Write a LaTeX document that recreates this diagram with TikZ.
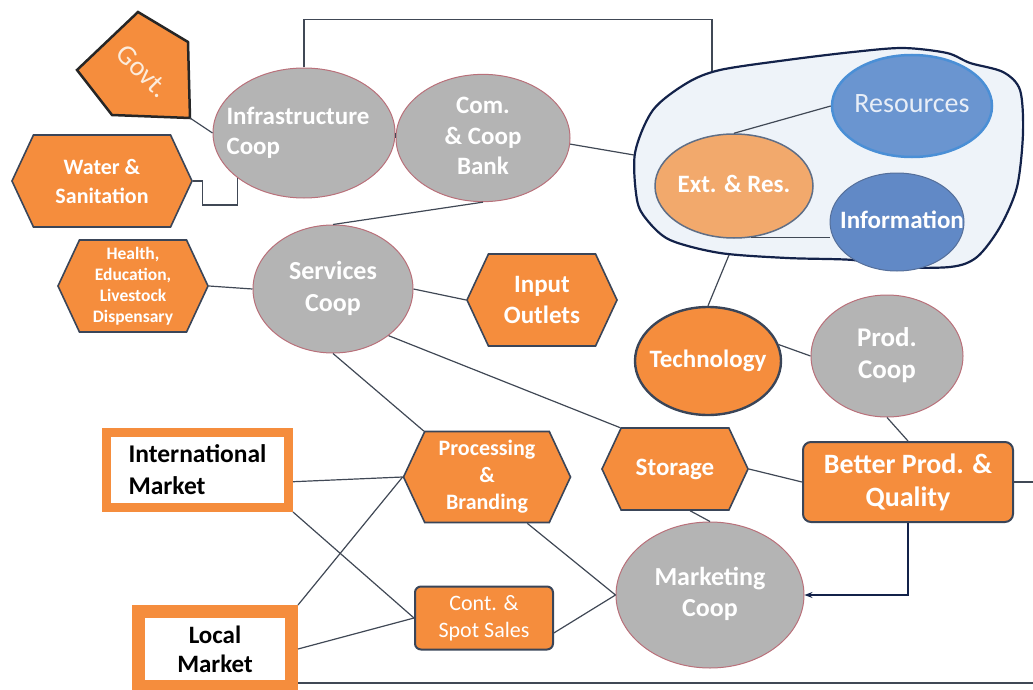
\documentclass[tikz,border=0pt]{standalone}
\usepackage{fontspec}
\setmainfont{Carlito}
\usetikzlibrary{shapes.geometric,shapes.symbols,arrows.meta}
\definecolor{org}{HTML}{F58D3D}
\definecolor{edgec}{HTML}{3A4558}
\definecolor{gfill}{HTML}{B4B4B4}
\definecolor{gline}{HTML}{B9707A}
\definecolor{linec}{HTML}{404855}
\definecolor{blobfill}{HTML}{EEF3F9}
\definecolor{navy}{HTML}{13224A}
\definecolor{resfill}{HTML}{6A95D0}
\definecolor{resline}{HTML}{4A8FD6}
\definecolor{infofill}{HTML}{6189C6}
\definecolor{extfill}{HTML}{F2A96C}
\newcommand{\fs}[2]{\fontsize{#1}{#2}\selectfont}
\newcommand{\zt}[2]{\makebox[0pt]{\begin{tabular}{@{}#1@{}}#2\end{tabular}}}
\tikzset{
  grayell/.style={ellipse, fill=gfill, draw=gline, line width=1pt, text=white, font=\bfseries, align=center, inner sep=0pt},
  hexa/.style={signal, signal to=west and east, signal pointer angle=130, fill=org, draw=edgec, line width=1.6pt, text=white, font=\bfseries, align=center, inner sep=0pt},
  rbox/.style={rectangle, rounded corners=8pt, fill=org, draw=edgec, line width=2pt, text=white, font=\bfseries, align=center, inner sep=0pt},
  mbox/.style={rectangle, fill=white, draw=org, line width=9pt, text=black, font=\bfseries, align=left, inner sep=0pt},
  conn/.style={draw=linec, line width=1.2pt},
}
\begin{document}
\begin{tikzpicture}[x=1pt,y=-1pt]
\useasboundingbox (0,0) rectangle (1033,690);
% blob
\draw[navy, line width=2.2pt, fill=blobfill] plot[smooth cycle, tension=0.5] coordinates {
 (635,153) (653,110) (687,83) (720,70) (787,60) (853,52) (903,48) (947,53) (970,63) (1003,72) (1020,90) (1023,133) (1017,187) (1000,227) (977,257) (950,267) (887,267) (853,260) (787,258) (720,253) (670,240) (647,220) (637,200)};
\coordinate (blobtop) at (712,71);
\coordinate (blobleft) at (634,155);
\coordinate (blobbot) at (729,255);
\node[ellipse, fill=resfill, draw=resline, line width=2.5pt, minimum width=160pt, minimum height=102pt, inner sep=0pt, text={rgb,255:red,232;green,238;blue,247}, font=\fs{28}{32}] (res) at (912,106) {\zt{c}{Resources}};
\node[ellipse, fill=extfill, draw={rgb,255:red,95;green,110;blue,134}, line width=1.5pt, minimum width=158pt, minimum height=104pt, inner sep=0pt, text=white, font=\bfseries\fs{25}{30}] (ext) at (734,186) {\zt{c}{Ext. \& Res.}};
\node[ellipse, fill=infofill, draw={rgb,255:red,85;green,111;blue,154}, line width=1pt, minimum width=134pt, minimum height=98pt, inner sep=0pt, text=white, font=\bfseries\fs{25}{30}] (info) at (897,222) {\zt{c}{\hspace*{10pt}Information}};
% govt
\draw[fill=org, draw=black!85, line width=2.5pt, line join=miter] (138,12) -- (188,42) -- (190,118) -- (112,115) -- (77,70) -- cycle;
\node[rotate=-45, text={rgb,255:red,252;green,236;blue,220}, font=\fs{28}{32}] (govt) at (143,71) {Govt.};
\coordinate (govtc) at (190,118);
% gray ellipses
\node[grayell, minimum width=182pt, minimum height=130pt, font=\bfseries\fs{25}{30}] (infra) at (304,133) {\zt{l}{Infrastructure\hspace*{12pt}\\Coop}};
\node[grayell, minimum width=174pt, minimum height=118pt, font=\bfseries\fs{25}{30}] (bank) at (483,138) {\zt{c}{Com.\\\& Coop\\Bank}};
\node[grayell, minimum width=160pt, minimum height=128pt, font=\bfseries\fs{26}{32}] (svc) at (333,289) {\zt{c}{Services\\Coop}};
\node[grayell, minimum width=152pt, minimum height=122pt, font=\bfseries\fs{27}{32}] (prod) at (887,356) {\zt{c}{Prod.\\Coop}};
\node[grayell, minimum width=188pt, minimum height=146pt, font=\bfseries\fs{26}{31}] (mkt) at (710,595) {\zt{c}{Marketing\\Coop}};
\node[ellipse, fill=org, draw=edgec, line width=2.4pt, minimum width=146pt, minimum height=108pt, inner sep=0pt, text=white, font=\bfseries\fs{25}{30}] (tech) at (708,361) {\zt{c}{Technology}};
% hexagons
\node[hexa, minimum width=180pt, minimum height=92pt, font=\bfseries\fs{22}{29}] (water) at (102,181) {Water \&\\Sanitation};
\node[hexa, minimum width=150pt, minimum height=92pt, font=\bfseries\fs{17.5}{21}] (health) at (133,286) {Health,\\Education,\\Livestock\\Dispensary};
\node[hexa, minimum width=150pt, minimum height=92pt, font=\bfseries\fs{25}{31}] (input) at (542,300) {Input\\Outlets};
\node[hexa, minimum width=167pt, minimum height=91pt, font=\bfseries\fs{22}{27}] (proc) at (487,477) {Processing\\\&\\Branding};
\node[hexa, minimum width=146pt, minimum height=82pt, font=\bfseries\fs{25}{30}] (storage) at (675,469) {Storage};
% boxes
\node[rbox, minimum width=210pt, minimum height=80pt, font=\bfseries\fs{28}{33}] (better) at (908,482) {Better Prod. \&\\Quality};
\node[rbox, rounded corners=6pt, minimum width=138pt, minimum height=63pt, font=\fs{22}{27}] (cont) at (484,618) {Cont. \&\\Spot Sales};
\node[mbox, minimum width=182pt, minimum height=75pt, font=\bfseries\fs{25.5}{32}] (intl) at (197.5,470) {International\\Market};
\node[mbox, line width=13pt, align=center, minimum width=153pt, minimum height=75pt, font=\bfseries\fs{25}{29}] (local) at (215,649) {Local\\Market};
\coordinate (rightend) at (1033,482);
\coordinate (bottomend) at (1033,683);
% connectors
\draw[conn] (infra.north) -- ++(0,-48) -| (blobtop);
\draw[conn] (govtc) -- (infra.west);
\draw[conn] (water.east) -- ++(10,0) -- ++(0,24) -| (infra.214);
\draw[conn] (infra.east) -- (bank.west);
\draw[conn] (bank.-4) -- (blobleft);
\draw[conn] (bank.south) -- (svc.north);
\draw[conn] (health.east) -- (svc.west);
\draw[conn] (svc.east) -- (input.west);
\draw[conn] (svc.-40) -- (storage.143);
\draw[conn] (svc.south) -- (proc.144);
\draw[conn] (tech.north) -- (blobbot);
\draw[conn] (tech.13) -- (prod.west);
\draw[conn] (prod.south) -- (better.north);
\draw[conn] (storage.east) -- (better.west);
\draw[conn] (storage.-70) -- (mkt.north);
\draw[conn, draw=navy, -{Stealth[length=8pt,width=6pt]}] (better.south) |- (mkt.east);
\draw[conn] (better.east) -- (rightend);
\draw[conn] (intl.-7) -- (proc.west);
\draw[conn] (intl.south east) -- (cont.west);
\draw[conn] (local.north east) -- (proc.west);
\draw[conn] (local.east) -- (cont.west);
\draw[conn] (proc.-49) -- (mkt.west);
\draw[conn] (cont.-12) -- (mkt.west);
\draw[conn] (bottomend -| local.east) -- (bottomend);
\draw[conn] (res.west) -- (ext.north);
\draw[conn] (ext.-72) -- (ext.-72 -| info.west);
\end{tikzpicture}
\end{document}
